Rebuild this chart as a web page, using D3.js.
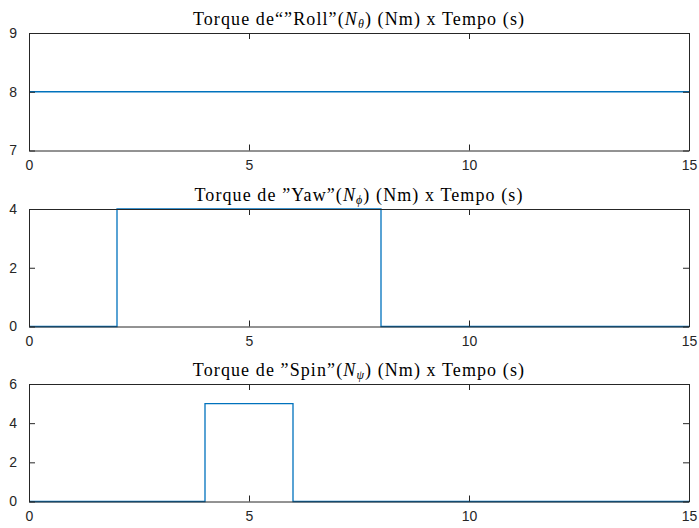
<!DOCTYPE html>
<html>
<head>
<meta charset="utf-8">
<script src="https://cdn.jsdelivr.net/npm/d3@7"></script>
<style>
  html, body { margin: 0; padding: 0; background: #fff; }
  svg { display: block; }
  .tick text { font-family: "Liberation Sans", Arial, sans-serif; font-size: 14px; fill: #262626; }
  .title { font-family: "Liberation Serif", "DejaVu Serif", serif; font-size: 18px; letter-spacing: 1.1px; fill: #000; }
</style>
</head>
<body>
<svg id="chart" width="699" height="528"></svg>
<script>
// Time axis (s)
const timeTicks = [0, 5, 10, 15];

// Roll torque: constant over the whole run
const rollT = [0, 15];
const rollN = [8, 8];

// Yaw torque: step pulse between 2 s and 8 s
const yawT = [0, 2, 2, 8, 8, 15];
const yawN = [0, 0, 4, 4, 0, 0];

// Spin torque: step pulse between 4 s and 6 s
const spinT = [0, 4, 4, 6, 6, 15];
const spinN = [0, 0, 5, 5, 0, 0];

const rollTicks = [7, 8, 9];
const yawTicks = [0, 2, 4];
const spinTicks = [0, 2, 4, 6];

const panels = [
  { t: rollT, n: rollN, yDomain: [7, 9], yTicks: rollTicks, top: 33, label: "Roll", sym: "θ", pre: "Torque de“”" },
  { t: yawT, n: yawN, yDomain: [0, 4], yTicks: yawTicks, top: 209, label: "Yaw", sym: "ϕ", pre: "Torque de ”" },
  { t: spinT, n: spinN, yDomain: [0, 6], yTicks: spinTicks, top: 384, label: "Spin", sym: "ψ", pre: "Torque de ”" }
];

const svg = d3.select("#chart");
const left = 29, right = 689, plotH = 117.5;
const axisColor = "#262626", lineColor = "#0072BD", tickLen = 6;
const fmt = d3.format("d");

panels.forEach(p => {
  const x = d3.scaleLinear().domain([0, 15]).range([left, right]);
  const y = d3.scaleLinear().domain(p.yDomain).range([p.top + plotH, p.top]);
  const g = svg.append("g");

  // data trace
  const pts = p.t.map((t, i) => [t, p.n[i]]);
  g.append("path")
    .datum(pts)
    .attr("fill", "none")
    .attr("stroke", lineColor)
    .attr("stroke-width", 1.3)
    .attr("d", d3.line().x(d => x(d[0])).y(d => y(d[1])));

  // box axes with inward ticks
  const bottom = g.append("g").attr("transform", `translate(0,${y.range()[0]})`)
    .call(d3.axisBottom(x).tickValues(timeTicks).tickFormat(fmt).tickSizeInner(-tickLen).tickSizeOuter(0).tickPadding(10));
  const top = g.append("g").attr("transform", `translate(0,${y.range()[1]})`)
    .call(d3.axisTop(x).tickValues(timeTicks).tickSizeInner(-tickLen).tickSizeOuter(0).tickFormat(""));
  const leftAx = g.append("g").attr("transform", `translate(${left},0)`)
    .call(d3.axisLeft(y).tickValues(p.yTicks).tickFormat(fmt).tickSizeInner(-tickLen).tickSizeOuter(0).tickPadding(12));
  const rightAx = g.append("g").attr("transform", `translate(${right},0)`)
    .call(d3.axisRight(y).tickValues(p.yTicks).tickSizeInner(-tickLen).tickSizeOuter(0).tickFormat(""));

  [bottom, top, leftAx, rightAx].forEach(a => {
    a.select(".domain").attr("stroke", axisColor).attr("stroke-width", 1);
    a.selectAll(".tick line").attr("stroke", axisColor).attr("stroke-width", 1);
    a.selectAll(".tick text").attr("fill", axisColor);
  });

  // title
  const title = g.append("text")
    .attr("class", "title")
    .attr("x", (left + right) / 2)
    .attr("y", p.top - 8)
    .attr("text-anchor", "middle");
  title.append("tspan").text(p.pre + p.label + "”(");
  title.append("tspan").attr("font-style", "italic").text("N");
  title.append("tspan").attr("font-style", "italic").attr("font-size", "12px").attr("dy", 3).text(p.sym);
  title.append("tspan").attr("dy", -3).text(") (Nm) x Tempo (s)");
});
</script>
</body>
</html>
